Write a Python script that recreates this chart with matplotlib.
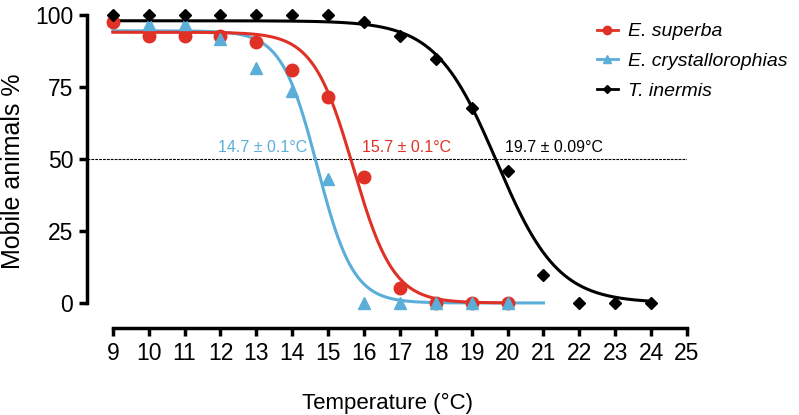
import numpy as np
import matplotlib.pyplot as plt
from matplotlib.lines import Line2D

plt.rcParams['font.family'] = ['Liberation Sans', 'DejaVu Sans']

# data
temp_sup = [9, 10, 11, 12, 13, 14, 15, 16, 17, 18, 19, 20]
mob_sup = [97.7, 92.8, 92.8, 92.8, 90.5, 80.8, 71.6, 43.9, 5.1, 0, 0, 0]

temp_cry = [10, 11, 12, 13, 14, 15, 16, 17, 18, 19, 20]
mob_cry = [97.0, 97.0, 91.7, 81.7, 73.6, 43.0, 0, 0, 0, 0, 0]

temp_ine = [9, 10, 11, 12, 13, 14, 15, 16, 17, 18, 19, 20, 21, 22, 23, 24]
mob_ine = [100, 100, 100, 100, 100, 100, 100, 97.5, 92.8, 84.7, 67.8, 45.8, 9.7, 0, 0, 0]

# sigmoid fit parameters (top, x50, slope, x range)
fit_sup = (94.0, 15.7, 0.56, 9, 20)
fit_cry = (94.5, 14.7, 0.50, 9, 21)
fit_ine = (98.0, 19.7, 0.85, 9, 24)

red = '#e03127'
blue = '#5aaed8'
black = '#000000'


def sigmoid(fit):
    top, x50, s, x0, x1 = fit
    x = np.linspace(x0, x1, 300)
    return x, top / (1 + np.exp((x - x50) / s))


fig = plt.figure(figsize=(7.99, 4.15), dpi=100)
ax = fig.add_axes([87 / 799, 87 / 415, 600 / 799, 313 / 415])
ax.set_xlim(8.28, 25)
ax.set_ylim(-8.7, 100)

ax.axhline(50, color='black', lw=0.8, ls=(0, (2.5, 1)), zorder=1)

for fit, c in [(fit_cry, blue), (fit_sup, red), (fit_ine, black)]:
    x, y = sigmoid(fit)
    ax.plot(x, y, color=c, lw=2.2, zorder=2)

ax.plot(temp_sup, mob_sup, 'o', color=red, ms=9, clip_on=False, zorder=3)
ax.plot(temp_cry, mob_cry, '^', color=blue, ms=8.5, clip_on=False, zorder=4)
ax.plot(temp_ine, mob_ine, 'D', color=black, ms=6, clip_on=False, zorder=5)

handles = [
    Line2D([], [], color=red, marker='o', ms=6, lw=2),
    Line2D([], [], color=blue, marker='^', ms=6, lw=2),
    Line2D([], [], color=black, marker='D', ms=4.5, lw=2),
]
labels = ['E. superba', 'E. crystallorophias', 'T. inermis']
ax.legend(handles, labels, loc='upper left', bbox_to_anchor=(0.837, 1.0),
          frameon=False, prop={'style': 'italic', 'size': 14},
          handlelength=1.08, handletextpad=0.51, labelspacing=0.63,
          borderaxespad=0)

ax.text(13.17, 51.3, '14.7 ± 0.1°C', color=blue, fontsize=11.5, ha='center', va='bottom')
ax.text(17.18, 51.3, '15.7 ± 0.1°C', color=red, fontsize=11.5, ha='center', va='bottom')
ax.text(21.3, 51.3, '19.7 ± 0.09°C', color=black, fontsize=11.5, ha='center', va='bottom')

for side in ['top', 'right']:
    ax.spines[side].set_visible(False)
ax.spines['left'].set_bounds(0, 100)
ax.spines['bottom'].set_bounds(9, 25)
ax.spines['left'].set_linewidth(2.5)
ax.spines['bottom'].set_linewidth(2.5)

ax.set_xticks(range(9, 26))
ax.set_yticks([0, 25, 50, 75, 100])
ax.tick_params(width=2.5, length=6, labelsize=16.5, pad=4)

ax.set_xlabel('Temperature (°C)', fontsize=16, labelpad=20)
ax.set_ylabel('Mobile animals %', fontsize=18, labelpad=7)

fig.savefig('out.png', dpi=100)
